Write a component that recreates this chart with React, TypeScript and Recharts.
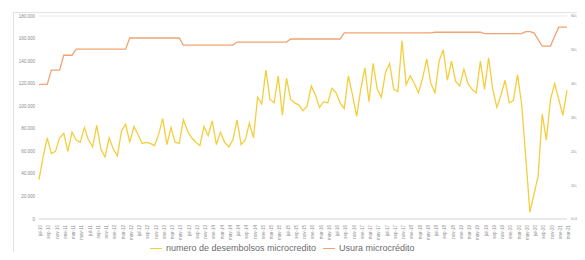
import React from "react";
import { LineChart, Line, XAxis, YAxis, CartesianGrid } from "recharts";

const meses = [
  ...["jul-10", "ago-10", "sep-10", "oct-10", "nov-10", "dic-10"],
  ...["ene-11", "feb-11", "mar-11", "abr-11", "may-11", "jun-11", "jul-11", "ago-11", "sep-11", "oct-11", "nov-11", "dic-11"],
  ...["ene-12", "feb-12", "mar-12", "abr-12", "may-12", "jun-12", "jul-12", "ago-12", "sep-12", "oct-12", "nov-12", "dic-12"],
  ...["ene-13", "feb-13", "mar-13", "abr-13", "may-13", "jun-13", "jul-13", "ago-13", "sep-13", "oct-13", "nov-13", "dic-13"],
  ...["ene-14", "feb-14", "mar-14", "abr-14", "may-14", "jun-14", "jul-14", "ago-14", "sep-14", "oct-14", "nov-14", "dic-14"],
  ...["ene-15", "feb-15", "mar-15", "abr-15", "may-15", "jun-15", "jul-15", "ago-15", "sep-15", "oct-15", "nov-15", "dic-15"],
  ...["ene-16", "feb-16", "mar-16", "abr-16", "may-16", "jun-16", "jul-16", "ago-16", "sep-16", "oct-16", "nov-16", "dic-16"],
  ...["ene-17", "feb-17", "mar-17", "abr-17", "may-17", "jun-17", "jul-17", "ago-17", "sep-17", "oct-17", "nov-17", "dic-17"],
  ...["ene-18", "feb-18", "mar-18", "abr-18", "may-18", "jun-18", "jul-18", "ago-18", "sep-18", "oct-18", "nov-18", "dic-18"],
  ...["ene-19", "feb-19", "mar-19", "abr-19", "may-19", "jun-19", "jul-19", "ago-19", "sep-19", "oct-19", "nov-19", "dic-19"],
  ...["ene-20", "feb-20", "mar-20", "abr-20", "may-20", "jun-20", "jul-20", "ago-20", "sep-20", "oct-20", "nov-20", "dic-20"],
  ...["ene-21", "feb-21", "mar-21"],
];

const desembolsos = [
  35000, 55000, 72000, 58000, 60000, 72000, 76000, 60000, 77000, 70000,
  68000, 81000, 70000, 64000, 83000, 62000, 55000, 72000, 62000, 56000,
  78000, 84000, 68000, 82000, 75000, 67000, 68000, 67000, 65000, 75000,
  89000, 66000, 81000, 68000, 67000, 88000, 78000, 72000, 68000, 65000,
  82000, 74000, 87000, 66000, 77000, 68000, 64000, 70000, 88000, 66000,
  70000, 85000, 72000, 108000, 102000, 132000, 106000, 103000, 127000, 92000,
  125000, 106000, 103000, 101000, 96000, 100000, 118000, 110000, 99000, 104000,
  103000, 116000, 112000, 103000, 98000, 127000, 110000, 91000, 115000, 134000,
  104000, 138000, 115000, 108000, 130000, 138000, 115000, 113000, 158000, 119000,
  127000, 120000, 112000, 125000, 142000, 120000, 112000, 140000, 150000, 123000,
  140000, 122000, 118000, 133000, 120000, 115000, 112000, 140000, 115000, 143000,
  115000, 99000, 110000, 123000, 103000, 105000, 128000, 102000, 55000, 6000,
  22000, 38000, 93000, 70000, 106000, 120000, 106000, 92000, 114000,
];

const usura = [
  39.8, 39.8, 39.8, 44.0, 44.0, 44.0, 48.4, 48.4, 48.4,
  50.2, 50.2, 50.2, 50.2, 50.2, 50.2, 50.2, 50.2, 50.2, 50.2, 50.2, 50.2, 50.2,
  53.5, 53.5, 53.5, 53.5, 53.5, 53.5, 53.5, 53.5, 53.5, 53.5, 53.5, 53.5, 53.5,
  51.4, 51.4, 51.4, 51.4, 51.4, 51.4, 51.4, 51.4, 51.4, 51.4, 51.4, 51.4, 51.4,
  52.3, 52.3, 52.3, 52.3, 52.3, 52.3, 52.3, 52.3, 52.3, 52.3, 52.3, 52.3, 52.3,
  53.2, 53.2, 53.2, 53.2, 53.2, 53.2, 53.2, 53.2, 53.2, 53.2, 53.2, 53.2, 53.2,
  55.0, 55.0, 55.0, 55.0, 55.0, 55.0, 55.0, 55.0, 55.0, 55.0, 55.0,
  55.0, 55.0, 55.0, 55.0, 55.0, 55.0, 55.0, 55.0, 55.0, 55.0, 55.0,
  55.2, 55.2, 55.2, 55.2, 55.2, 55.2, 55.2, 55.2, 55.2, 55.2, 55.2, 55.2,
  54.8, 54.8, 54.8, 54.8, 54.8, 54.8, 54.8, 54.8, 54.8, 54.8,
  55.4, 55.4, 55.0, 53.0, 51.1, 51.1, 51.1, 54.0, 56.7, 56.7, 56.7,
];

const ticksIzq = [0, 20000, 40000, 60000, 80000, 100000, 120000, 140000, 160000, 180000];
const ticksDer = [0, 10, 20, 30, 40, 50, 60];

const series = [
  { key: "desembolsos", name: "numero de desembolsos microcredito", color: "#F4CE3C" },
  { key: "usura", name: "Usura microcrédito", color: "#F0A470" },
];

const data = meses.map((mes, i) => ({ mes, desembolsos: desembolsos[i], usura: usura[i] }));

const fmtMiles = (v: number) =>
  v >= 1000 ? `${Math.floor(v / 1000)}.${String(v % 1000).padStart(3, "0")}` : String(v);
const fmtPct = (v: number) => `${v.toFixed(2).replace(".", ",")}%`;

const font = "'Liberation Sans', Arial, sans-serif";
const tickStyle = { fontSize: 4.5, fill: "#8c8c8c", fontFamily: font };

export default function App() {
  return (
    <div style={{ position: "relative", width: 585, height: 260, margin: -8, background: "#fff" }}>
      <div
        style={{
          position: "absolute", left: 13, top: 12, width: 572, height: 248,
          borderLeft: "1px solid #e3e3e3", borderTop: "1px solid #e3e3e3", boxSizing: "border-box",
        }}
      />
      <LineChart
        width={585}
        height={260}
        data={data}
        margin={{ top: 16, right: 0, left: 13, bottom: 19 }}
        style={{ position: "absolute", left: 0, top: 0, fontFamily: font }}
      >
        <CartesianGrid vertical={false} stroke="#e8e8e8" />
        <XAxis
          dataKey="mes"
          interval={1}
          angle={-90}
          textAnchor="end"
          height={22}
          tick={{ ...tickStyle, dy: -2 }}
          tickLine={false}
          axisLine={{ stroke: "#e0e0e0" }}
        />
        <YAxis
          yAxisId="izq"
          domain={[0, 180000]}
          ticks={ticksIzq}
          tickFormatter={fmtMiles}
          width={26}
          tick={tickStyle}
          tickLine={false}
          axisLine={false}
          tickSize={0}
          tickMargin={4}
        />
        <YAxis
          yAxisId="der"
          orientation="right"
          domain={[0, 60]}
          ticks={ticksDer}
          tickFormatter={fmtPct}
          width={18}
          tick={{ ...tickStyle, fontSize: 4.2, textAnchor: "start" }}
          tickLine={false}
          axisLine={false}
          tickSize={0}
          tickMargin={4}
        />
        {series.map((s) => (
          <Line
            key={s.key}
            yAxisId={s.key === "usura" ? "der" : "izq"}
            type="linear"
            dataKey={s.key}
            name={s.name}
            stroke={s.color}
            strokeWidth={1.3}
            dot={false}
            isAnimationActive={false}
          />
        ))}
      </LineChart>
      <div
        style={{
          position: "absolute", left: 0, width: 585, top: 242, height: 13, zIndex: 2,
          fontFamily: font, fontSize: 9, lineHeight: "13px", color: "#6b6b6b",
        }}
      >
        {series.map((s, i) => (
          <div
            key={s.key}
            style={{
              position: "absolute", left: i === 0 ? 150 : 323, top: 0,
              display: "flex", alignItems: "center", height: 13, whiteSpace: "nowrap",
            }}
          >
            <span style={{ display: "inline-block", width: 12, height: 1.5, background: s.color, marginRight: 4 }} />
            <span>{s.name}</span>
          </div>
        ))}
      </div>
    </div>
  );
}
